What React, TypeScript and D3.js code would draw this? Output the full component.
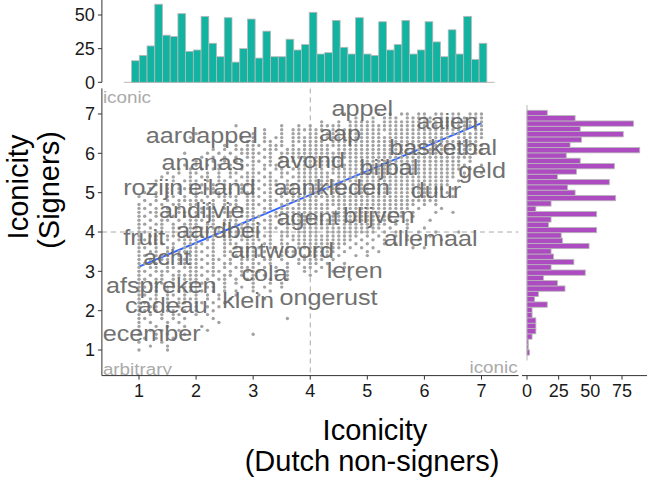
import React from "react";
import * as d3 from "d3";

const W = 648;
const H = 482;
const FONT = "'Liberation Sans', Arial, sans-serif";

// shared histogram bins (both margins use the same bins)
const binStart = 0.87;
const binWidth = 0.1353;
const topCounts = [16, 20, 27, 58, 35, 34, 51, 23, 24, 49, 29, 19, 48, 15, 25, 47, 18, 38, 19, 19, 32, 24, 28, 52, 21, 22, 46, 26, 21, 48, 21, 20, 45, 24, 28, 46, 21, 24, 45, 30, 19, 39, 21, 49, 17, 29];
// bottom (low iconicity) to top
const rightCounts = [2, 1, 1, 4, 7, 7, 7, 4, 4, 16, 6, 9, 30, 24, 13, 46, 19, 37, 21, 19, 49, 28, 27, 55, 17, 19, 55, 7, 19, 70, 38, 32, 65, 24, 39, 69, 42, 31, 89, 34, 43, 76, 42, 84, 38, 16];

const xTicks = [1, 2, 3, 4, 5, 6, 7];
const yTicks = [1, 2, 3, 4, 5, 6, 7];
const topTicks = [0, 25, 50];
const rightTicks = [0, 25, 50, 75];

// point cloud, read off as a grid: rows from y=7.0 down to 1.0, columns x=1.0..7.0 (step 0.1)
// "E" = ten empty cells, "F" = ten filled cells
const gridX0 = 1;
const gridY0 = 7;
const gridStep = 0.1;
const pointRows = [
  "E E E ......#... ..#.#.##.# #.##.##.## #",
  "E E E ........#. .#.###.### ##.####### #",
  "E E E ..#..#.### ##.####### F #",
  "E .......#.. .....#..#. #.####.### F #.######## #",
  "E E ..#..#.### ###.###### F ########.# #",
  "E #......... #.#..#.##. ##.####### ###.###### F #",
  ".........# ........#. #.#.##.### ########## F #####.#### #",
  "E ......#..# #.##.#.### ###.###### F F .",
  "E .....#.#.# ##.###.#.# ########## F #.######## #",
  "E ...#.#.### #.###.#### ####.##### F F #",
  "........#. ..#.#.#.## ##.#.##### ########## F ########.# #",
  "E .#.#.#.#.# #.##.#.### ########## F #########. .",
  "E #..#.#.##. ##.#.###.# ######.### F #######.#. .",
  "........#. #.#.#.#.## #.###.#.## ########## F ########.. #",
  ".......#.# .#.##.#.#. #.#.##.### ###.###### F #######.#. .",
  ".....#.#.# #.#.#.##.# ##.#.##.## ########## F ######.#.. #",
  "....#.#..# .##.#.#.## #.##.#.### ####.##### F ######.#.. .",
  "...#..#.## #.#.##.#.# ##.##.#.## ########## F #####.#... .",
  "...#.#.#.# ##.#.#.### #.###.##.# #######.## F #####..... .",
  "..#..#.### #.##.##.#. ##.#.##### ########## ########## ####.#.... .",
  ".#.#.#.#.# ##.##.#.## #.##.###.# ###.###### F ###.#..... .",
  "#..#.##.#. #.#.####.# ##.#.#.### ########## ########.# ##.#.#.... .",
  ".#.#.#.### ##.#.#.#.# #.###.#### ##.####### F ###....... .",
  "#.#.#.##.# #.##.###.# ##.#.##.## ########## #########. #.#....... .",
  "##.#.#.#.# .###.#.### #.##.##### ####.##### ########.# ...#...... .",
  "#.##.#.##. ##.#.##.## #.#.###### ########## #######.#. ..#..#.... .",
  "##.#.##.## #.###.#.## ##.##.#### ###.###### #####.#.#. E .",
  "#.#.##.#.# ##.#.###.# #.##.#.### ########## ######.#.. .#........ .",
  "##.##.#.## #.##.#.### ##.#.##### #####.#### ####.#.#.. E .",
  "#.#.#.##.# ##.##.#.## #.###.#.## ########## ###.#..#.. #......... .",
  "##.##.#.## #.#.####.# ##.#.##.## ##.####### ##.#.#...# ..#...#... .",
  "#.##.##.## ##.#.#.### #.##.##### #########. #.#..#.#.. .#..#..... .",
  "##.#.#.### #.##.##.## ##.#.#.### ########.# .#.#...#.# ...#...... .",
  "#.###.#.## ##.#.###.# #.##.##.## #######.#. #..#.#.... E .",
  "##.#.##.## #.##.#.### ##.##.#.## ######.#.# .#......#. #......... .",
  "#.##.#.### ##.#.##.## #.#.####.. #####.#... #.#....... E .",
  "##.###.#.# #.##.#.### ##.#.#.#.# ####.#..#. #......... E .",
  "#.#.##.### ##.##.#.## #.##.#..## ###.#..... E E .",
  "##.#.#.### #.##.##.#. ##.#..#.#. ##.#..#... E E .",
  "#.##.##.## ##.#.#.### #.#.#.#..# #.#...#... E E .",
  "##.###.#.# #.###.#.## ##..#.#..# .#..#..... E E .",
  "#.#.#.#### ##.#.##.#. #.#.#.#... #......... E E .",
  "##.##.#.## #.#.##.#.# #..#..#... .......#.. E E .",
  "#.###.#.## ##.#.#.#.. #..#.#.... E E E .",
  "##.#.##.## #.##.#..#. #.#..#.... E E E .",
  "#.##.#.### ##.#.#.#.. #..#...... E E E .",
  "##.#.##.#. #.#.#..#.. .#........ E E E .",
  "#.##.#.### #.#.#.#... ..#....... E E E .",
  "##.#.#.##. ##.#.#.... E E E E .",
  "#.##.#.#.. #.#.#..... E E E E .",
  "##.#.##.#. #..#...... E E E E .",
  "#.#.#.##.. #.#....... E E E E .",
  "##..#.#.#. ...#...... ......#... E E E .",
  "#.#..#.#.. ....#..... E E E E .",
  "#..#.#..#. .#........ E E E E .",
  "#.#.#..#.. ..#....... E E E E .",
  "#..#.#..#. E #......... E E E .",
  ".#.#..#... E E E E E .",
  "#...#..... E E E E E .",
  "..#..#.... E E E E E .",
  "#....#.... E E E E E .",
];

// linear fit (Signers ~ Dutch non-signers)
const fitIntercept = 2.51;
const fitSlope = 0.608;
const fitRange = [1, 7];

const words = ["appel", "aaien", "aap", "aardappel", "basketbal", "ananas", "avond", "bijbal", "geld", "rozijn", "eiland", "aankleden", "duur", "andijvie", "agent", "blijven", "aardbei", "fruit", "allemaal", "acht", "antwoord", "leren", "cola", "afspreken", "cadeau", "klein", "ongerust", "december"];
const wordX = [4.91, 6.40, 4.52, 2.10, 6.33, 2.12, 4.01, 5.38, 7.01, 1.25, 2.45, 4.38, 6.20, 2.10, 3.96, 5.20, 2.39, 1.09, 6.11, 1.49, 3.51, 4.78, 3.20, 1.39, 1.48, 2.91, 4.32, 1.10];
const wordY = [7.15, 6.81, 6.52, 6.47, 6.16, 5.78, 5.83, 5.65, 5.58, 5.14, 5.14, 5.14, 5.07, 4.56, 4.38, 4.43, 4.05, 3.87, 3.85, 3.36, 3.54, 3.03, 2.96, 2.65, 2.14, 2.27, 2.35, 1.43];

export default function App() {
  const x = d3.scaleLinear().domain([0.35, 7.65]).range([101.9, 518.6]);
  const y = d3.scaleLinear().domain([0.35, 7.65]).range([375.6, 88.4]);
  const topY = d3.scaleLinear().domain([0, 61]).range([82.3, 0.2]);
  const rightX = d3.scaleLinear().domain([0, 75]).range([527, 622]);

  const [x0, x1] = x.range();
  const [yb, yt] = y.range();

  const points: [number, number][] = [];
  pointRows.forEach((row, r) => {
    const cells = row.split(" ").map(t => (t === "E" ? ".........." : t === "F" ? "##########" : t)).join("");
    for (let c = 0; c < cells.length; c++) {
      if (cells[c] === "#") points.push([gridX0 + c * gridStep, gridY0 - r * gridStep]);
    }
  });

  const fitLine = d3.line<number>()
    .x(v => x(v))
    .y(v => y(fitIntercept + fitSlope * v));

  const binEdge = (i: number) => binStart + i * binWidth;
  const nBins = topCounts.length;

  const tickStyle = { fontFamily: FONT, fontSize: 18, fill: "#1a1a1a" };
  const titleStyle = { fontFamily: FONT, fontSize: 29, fill: "#000" };
  const cornerStyle = { fontFamily: FONT, fontSize: 16.8, fill: "#aaa" };

  return (
    <svg width={W} height={H} style={{ position: "absolute", left: 0, top: 0, background: "#fff" }}>
      <defs>
        <clipPath id="main-clip">
          <rect x={x0} y={yt} width={x1 - x0} height={yb - yt} />
        </clipPath>
      </defs>

      {/* top marginal histogram */}
      <line x1={x(binEdge(-1))} x2={x(binEdge(nBins + 1))} y1={topY(0)} y2={topY(0)} stroke="#b8b8b8" strokeWidth={1} />
      {topCounts.map((n, i) => (
        <rect key={"t" + i} x={x(binEdge(i))} width={x(binEdge(i + 1)) - x(binEdge(i))}
          y={topY(n)} height={topY(0) - topY(n)} fill="#13B3A1" stroke="#b8b8b8" strokeWidth={0.8} />
      ))}
      <line x1={x0} x2={x0} y1={0} y2={topY(0)} stroke="#333" strokeWidth={1} />
      {topTicks.map(t => (
        <g key={"tt" + t}>
          <line x1={x0 - 4} x2={x0} y1={topY(t)} y2={topY(t)} stroke="#333" />
          <text x={x0 - 7} y={topY(t)} dy="0.35em" textAnchor="end" style={tickStyle}>{t}</text>
        </g>
      ))}

      {/* right marginal histogram */}
      <line x1={rightX(0)} x2={rightX(0)} y1={y(binEdge(-1))} y2={y(binEdge(nBins + 1))} stroke="#b8b8b8" strokeWidth={1} />
      {rightCounts.map((n, i) => (
        <rect key={"r" + i} x={rightX(0)} width={rightX(n) - rightX(0)}
          y={y(binEdge(i + 1))} height={y(binEdge(i)) - y(binEdge(i + 1))} fill="#AD4CC1" stroke="#b8b8b8" strokeWidth={0.8} />
      ))}
      <line x1={522} x2={647} y1={yb} y2={yb} stroke="#333" strokeWidth={1} />
      {rightTicks.map(t => (
        <g key={"rt" + t}>
          <line x1={rightX(t)} x2={rightX(t)} y1={yb} y2={yb + 4} stroke="#333" />
          <text x={rightX(t)} y={yb + 21} textAnchor="middle" style={tickStyle}>{t}</text>
        </g>
      ))}

      {/* main scatter */}
      <g clipPath="url(#main-clip)">
        <line x1={x(4)} x2={x(4)} y1={yt} y2={yb} stroke="#a8a8a8" strokeDasharray="5,4" />
        <line x1={x0} x2={x1} y1={y(4)} y2={y(4)} stroke="#a8a8a8" strokeDasharray="5,4" />
        <path d={fitLine(fitRange) ?? ""} fill="none" stroke="#3366FF" strokeWidth={2} />
        {points.map(([px, py], i) => (
          <circle key={"p" + i} cx={x(px)} cy={y(py)} r={1.7} fill="#a3a3a3" />
        ))}
        {words.map((w, i) => (
          <text key={w} transform={`translate(${x(wordX[i])},${y(wordY[i])}) scale(1.12,1)`} dy="0.35em"
            textAnchor="middle" style={{ fontFamily: FONT, fontSize: 22.5, fill: "#666", opacity: 0.92 }}>{w}</text>
        ))}
        <text transform={`translate(${x0 + 1},${yt + 14.5}) scale(1.12,1)`} style={cornerStyle}>iconic</text>
        <text transform={`translate(${x0 + 1},${yb - 1}) scale(1.12,1)`} style={cornerStyle}>arbitrary</text>
        <text transform={`translate(${x1 - 1},${yb - 3}) scale(1.12,1)`} textAnchor="end" style={cornerStyle}>iconic</text>
      </g>

      {/* main axes */}
      <line x1={x0} x2={x0} y1={yt} y2={yb} stroke="#333" strokeWidth={1} />
      <line x1={x0} x2={x1} y1={yb} y2={yb} stroke="#333" strokeWidth={1} />
      {xTicks.map(t => (
        <g key={"xt" + t}>
          <line x1={x(t)} x2={x(t)} y1={yb} y2={yb + 4} stroke="#333" />
          <text x={x(t)} y={yb + 21} textAnchor="middle" style={tickStyle}>{t}</text>
        </g>
      ))}
      {yTicks.map(t => (
        <g key={"yt" + t}>
          <line x1={x0 - 4} x2={x0} y1={y(t)} y2={y(t)} stroke="#333" />
          <text x={x0 - 7} y={y(t)} dy="0.35em" textAnchor="end" style={tickStyle}>{t}</text>
        </g>
      ))}

      {/* axis titles */}
      <text textAnchor="middle" style={titleStyle}>
        <tspan x={375} y={440}>Iconicity</tspan>
        <tspan x={372} y={471}>(Dutch non-signers)</tspan>
      </text>
      <text transform="translate(28,187) rotate(-90)" textAnchor="middle" style={titleStyle}>Iconicity</text>
      <text transform="translate(59,190) rotate(-90)" textAnchor="middle" style={titleStyle}>(Signers)</text>
    </svg>
  );
}
